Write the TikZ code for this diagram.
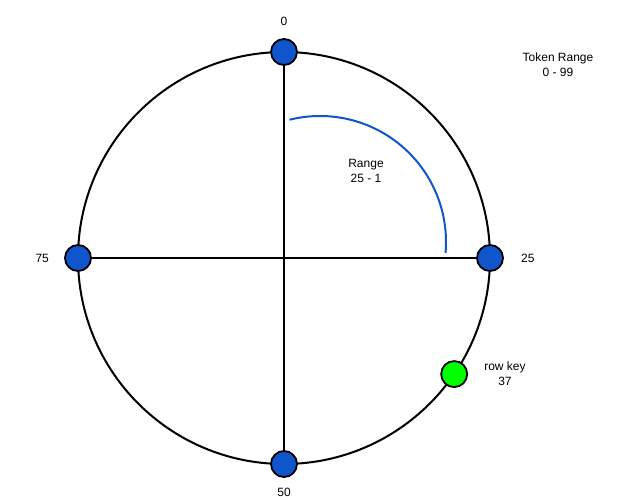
\documentclass[tikz,border=0pt]{standalone}
\usepackage{fontspec}
\setmainfont{Liberation Sans}
\usetikzlibrary{positioning}
\usetikzlibrary{calc}
\definecolor{tokenblue}{HTML}{1155CC}
\definecolor{keygreen}{HTML}{00FF00}
\tikzstyle{token} = [circle, draw=black, line width=1.8pt, fill=tokenblue, minimum size=26pt, inner sep=0pt]
\tikzstyle{rowkey} = [token, fill=keygreen]
\tikzstyle{tag} = [font=\fontsize{12}{15}\selectfont, align=center, inner sep=0pt]
\tikzstyle{ring} = [line width=2pt, draw=black]
\newcommand{\ringr}{206pt}
\newcommand{\tagshift}{15pt}

\begin{document}
\begin{tikzpicture}[x=1pt, y=1pt, node distance=\tagshift]
  \useasboundingbox (0,0) rectangle (623,499);

  % Ring
  \coordinate (centre) at (284,241);
  \draw [ring] (centre) circle (\ringr);

  % Token nodes
  \node [token] (t0)  at ($(centre)+(90:\ringr)$)  {};
  \node [token] (t25) at ($(centre)+(0:\ringr)$)   {};
  \node [token] (t50) at ($(centre)+(-90:\ringr)$) {};
  \node [token] (t75) at ($(centre)+(180:\ringr)$) {};

  % Cross
  \draw [ring] (t0) -- (t50);
  \draw [ring] (t75) -- (t25);

  % Row key
  \node [rowkey] (key) at ($(centre)+(-34.3:\ringr)$) {};

  % Range arc
  \draw [line width=2pt, tokenblue] (320,257) ++(104:126) arc (104:-5:126);

  % Labels
  \node [tag, above=12pt of t0]  (l0)  {0};
  \node [tag, right=17pt of t25] (l25) {25};
  \node [tag, below=10pt of t50] (l50) {50};
  \node [tag, left=of t75]       (l75) {75};
  \node [tag, right=16pt of key] (lkey) {row key\\37};
  \node [tag] (range) at (366,328.5) {Range\\25 - 1};
  \node [tag] (tokens) at (558,434.5) {Token Range\\0 - 99};
\end{tikzpicture}
\end{document}
